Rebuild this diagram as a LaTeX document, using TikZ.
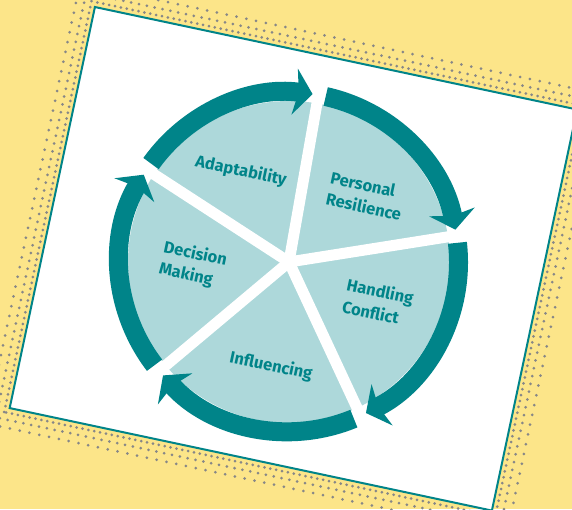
\documentclass[tikz,border=0pt]{standalone}
\usepackage{fontspec}
\setmainfont{Fira Sans}
\usetikzlibrary{arrows.meta}
\definecolor{sand}{RGB}{252,229,137}
\definecolor{tealdark}{RGB}{0,132,137}
\definecolor{tealpale}{RGB}{173,216,218}
\definecolor{dotgray}{RGB}{135,135,135}
\tikzset{
  halftone/.style={draw=dotgray, line width=3pt, line cap=round, dash pattern=on 0pt off #1},
  ringarc/.style={draw=tealdark, line width=19pt, -{Stealth[length=18pt,width=46pt,inset=4pt]}},
  spoke/.style={draw=white, line width=11pt},
  sectortext/.style={font=\bfseries\fontsize{16.5}{22}\selectfont, text=tealdark, rotate=-12, align=left, inner sep=0pt},
}
\begin{document}
\begin{tikzpicture}[x=1pt,y=1pt]
\fill[sand] (0,0) rectangle (572,509);
\useasboundingbox (0,0) rectangle (572,509);
% card with halftone shadow
\begin{scope}[shift={(293.4,250.2)}, rotate=-12]
\draw[halftone=6pt] (-251,-210) rectangle (251,210);
\draw[halftone=8pt] (-258,-217) rectangle (258,217);
\draw[halftone=10pt] (-266,-225) rectangle (266,225);
\filldraw[fill=white, draw=tealdark, line width=2pt] (-246.5,-205) rectangle (246.5,205);
\end{scope}
% wheel
\coordinate (hub) at (289,247);
\fill[tealpale] (hub) circle[radius=161];
\draw[ringarc] ([shift={(144.5:169.5)}]hub) arc[start angle=144.5, end angle=82, radius=169.5];
\draw[ringarc] ([shift={(77.5:169.5)}]hub) arc[start angle=77.5, end angle=11, radius=169.5];
\draw[ringarc] ([shift={(6.5:169.5)}]hub) arc[start angle=6.5, end angle=-63, radius=169.5];
\draw[ringarc] ([shift={(-67.5:169.5)}]hub) arc[start angle=-67.5, end angle=-138, radius=169.5];
\draw[ringarc] ([shift={(-142.5:169.5)}]hub) arc[start angle=-142.5, end angle=-211, radius=169.5];
\foreach \a in {147,80,9,-65,-140}
  \draw[spoke] (hub) -- ([shift={(\a:179)}]hub);
\node[sectortext] (adapt) at (241,338) {Adaptability};
\node[sectortext] (resil) at (366,313) {Personal\\Resilience};
\node[sectortext] (conflict) at (378,207) {Handling\\Conflict};
\node[sectortext] (influ) at (271,143) {Influencing};
\node[sectortext] (decide) at (193,244) {Decision\\Making};
\end{tikzpicture}
\end{document}
